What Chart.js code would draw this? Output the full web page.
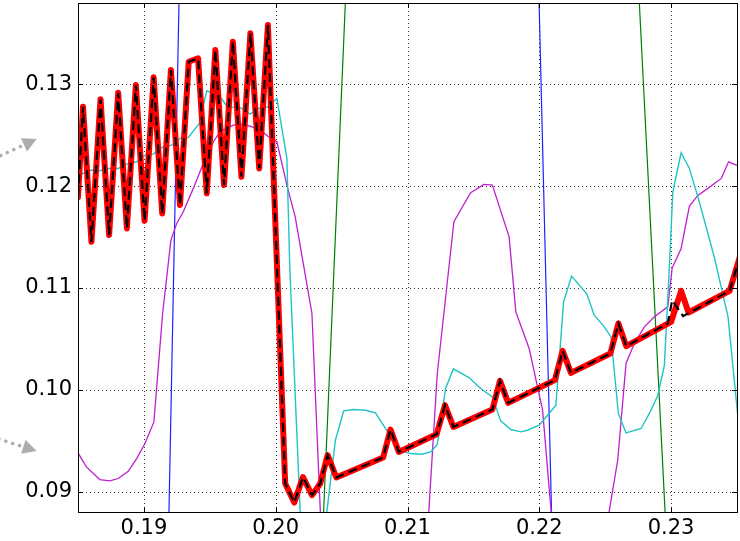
<!DOCTYPE html>
<html lang="en">
<head>
<meta charset="UTF-8">
<title>Filtered signal detail</title>
<script src="https://cdn.jsdelivr.net/npm/chart.js"></script>
<style>
  body { margin: 0; background: #fff; }
  canvas { display: block; }
</style>
</head>
<body>
<canvas id="chart" width="740" height="541"></canvas>
<script>
const xTicks = [0.19, 0.20, 0.21, 0.22, 0.23];
const yTicks = [0.09, 0.10, 0.11, 0.12, 0.13];

// output (thick red) and its dashed black reference
const redX = [0.18500, 0.18538, 0.18602, 0.18671, 0.18736, 0.18805, 0.18871, 0.18939, 0.19005, 0.19074,
  0.19139, 0.19205, 0.19274, 0.19340, 0.19411, 0.19477, 0.19542, 0.19608, 0.19675, 0.19740,
  0.19808, 0.19875, 0.19941, 0.20072, 0.20141, 0.20207, 0.20275, 0.20338, 0.20394, 0.20460,
  0.20815, 0.20871, 0.20934, 0.21221, 0.21284, 0.21348, 0.21644, 0.21702, 0.21764, 0.22118,
  0.22177, 0.22240, 0.22539, 0.22600, 0.22660, 0.23000, 0.23076, 0.23132, 0.23444, 0.23520];
const redY = [0.11893, 0.12781, 0.11454, 0.12854, 0.11520, 0.12918, 0.11586, 0.12994, 0.11660, 0.13070,
  0.11733, 0.13142, 0.11815, 0.13223, 0.13257, 0.11930, 0.13338, 0.12011, 0.13420, 0.12093,
  0.13502, 0.12175, 0.13584, 0.09080, 0.08893, 0.09144, 0.08965, 0.09080, 0.09358, 0.09139,
  0.09335, 0.09610, 0.09390, 0.09564, 0.09849, 0.09636, 0.09807, 0.10088, 0.09872, 0.10095,
  0.10383, 0.10167, 0.10357, 0.10652, 0.10429, 0.10668, 0.10972, 0.10760, 0.10972, 0.11300];

const refX = redX.slice(0, 45).concat([0.22975, 0.23008, 0.23091, 0.23444, 0.23520]);
const refY = redY.slice(0, 45).concat([0.10652, 0.10881, 0.10724, 0.10972, 0.11300]);

const cyanX = [0.18500, 0.18538, 0.18602, 0.18665, 0.18729, 0.18805, 0.18868, 0.18945, 0.19008, 0.19071,
  0.19147, 0.19211, 0.19274, 0.19337, 0.19421, 0.19477, 0.19527, 0.19578, 0.19629, 0.19679,
  0.19730, 0.19806, 0.19869, 0.19933, 0.20009, 0.20085, 0.20107, 0.20239, 0.20453, 0.20516,
  0.20592, 0.20681, 0.20757, 0.20858, 0.20922, 0.21023, 0.21112, 0.21175, 0.21226, 0.21289,
  0.21348, 0.21466, 0.21555, 0.21644, 0.21707, 0.21784, 0.21860, 0.21910, 0.21999, 0.22063,
  0.22126, 0.22184, 0.22245, 0.22361, 0.22417, 0.22493, 0.22544, 0.22600, 0.22658, 0.22772,
  0.22835, 0.22899, 0.22949, 0.22987, 0.23013, 0.23076, 0.23139, 0.23203, 0.23266, 0.23330,
  0.23432, 0.23520];
const cyanY = [0.12093, 0.12126, 0.12159, 0.12152, 0.12175, 0.12175, 0.12218, 0.12240, 0.12306, 0.12316,
  0.12388, 0.12404, 0.12470, 0.12480, 0.12618, 0.12938, 0.12913, 0.12879, 0.12788, 0.12775,
  0.12775, 0.12709, 0.12765, 0.12775, 0.12863, 0.12274, 0.11196, 0.07186, 0.09505, 0.09793,
  0.09807, 0.09800, 0.09773, 0.09571, 0.09407, 0.09374, 0.09367, 0.09390, 0.09463, 0.10013,
  0.10206, 0.10121, 0.10013, 0.09931, 0.09695, 0.09610, 0.09587, 0.09603, 0.09653, 0.09751,
  0.09849, 0.10864, 0.11117, 0.10940, 0.10734, 0.10619, 0.10520, 0.09768, 0.09577, 0.09620,
  0.09768, 0.09945, 0.10240, 0.11208, 0.11945, 0.12329, 0.12175, 0.11896, 0.11600, 0.11291,
  0.10717, 0.09560];

const magentaX = [0.18500, 0.18564, 0.18665, 0.18741, 0.18805, 0.18881, 0.18945, 0.19008, 0.19076, 0.19142,
  0.19205, 0.19249, 0.19299, 0.19375, 0.19451, 0.19527, 0.19578, 0.19679, 0.19730, 0.19806,
  0.19882, 0.19945, 0.20009, 0.20085, 0.20148, 0.20275, 0.20361, 0.20700, 0.21137, 0.21226,
  0.21276, 0.21352, 0.21479, 0.21580, 0.21644, 0.21771, 0.21822, 0.21923, 0.22025, 0.22110,
  0.22300, 0.22491, 0.22595, 0.22658, 0.22721, 0.22797, 0.22873, 0.22975, 0.23008, 0.23076,
  0.23139, 0.23203, 0.23279, 0.23381, 0.23436, 0.23495, 0.23520];
const magentaY = [0.09380, 0.09243, 0.09119, 0.09105, 0.09129, 0.09200, 0.09325, 0.09473, 0.09685, 0.10750,
  0.11471, 0.11635, 0.11749, 0.11979, 0.12225, 0.12437, 0.12535, 0.12601, 0.12611, 0.12591,
  0.12552, 0.12486, 0.12437, 0.12011, 0.11700, 0.10750, 0.08119, 0.06500, 0.08288, 0.10161,
  0.10750, 0.11651, 0.11936, 0.12018, 0.12011, 0.11503, 0.10766, 0.10406, 0.09800, 0.08493,
  0.07000, 0.08503, 0.09309, 0.10259, 0.10456, 0.10619, 0.10717, 0.10815, 0.11196, 0.11389,
  0.11805, 0.11910, 0.11979, 0.12077, 0.12240, 0.12208, 0.12200];

// raw signals, mostly far outside the visible window
const blueX = [0.1840, 0.1913, 0.1933, 0.2195, 0.2215, 0.2360];
const blueY = [0.0100, 0.0485, 0.1799, 0.1637, 0.0577, 0.0200];
const greenX = [0.1840, 0.2030, 0.2060, 0.2270, 0.2302, 0.2360];
const greenY = [0.0200, 0.0688, 0.1597, 0.1531, 0.0712, 0.0200];

const pts = (xs, ys) => xs.map((x, i) => ({ x, y: ys[i] }));
const line = (label, xs, ys, color, width, extra) => Object.assign({
  label, data: pts(xs, ys), borderColor: color, borderWidth: width,
  pointRadius: 0, tension: 0, fill: false, clip: 0
}, extra || {});

// dotted grid, inward ticks on all four sides, axes frame
const frame = {
  id: 'frame',
  beforeDatasetsDraw(chart) {
    const { ctx, chartArea: a, scales: { x, y } } = chart;
    ctx.save();
    ctx.strokeStyle = 'rgba(0,0,0,0.8)';
    ctx.lineWidth = 1;
    ctx.setLineDash([1, 3]);
    ctx.beginPath();
    xTicks.forEach(v => {
      const px = Math.round(x.getPixelForValue(v)) + 0.5;
      ctx.moveTo(px, a.top); ctx.lineTo(px, a.bottom);
    });
    yTicks.forEach(v => {
      const py = Math.round(y.getPixelForValue(v)) + 0.5;
      ctx.moveTo(a.left, py); ctx.lineTo(a.right, py);
    });
    ctx.stroke();
    ctx.restore();
  },
  afterDatasetsDraw(chart) {
    const { ctx, chartArea: a, scales: { x, y } } = chart;
    const t = 5;
    ctx.save();
    ctx.strokeStyle = '#000';
    ctx.lineWidth = 1;
    ctx.beginPath();
    xTicks.forEach(v => {
      const px = Math.round(x.getPixelForValue(v)) + 0.5;
      ctx.moveTo(px, a.bottom); ctx.lineTo(px, a.bottom - t);
      ctx.moveTo(px, a.top); ctx.lineTo(px, a.top + t);
    });
    yTicks.forEach(v => {
      const py = Math.round(y.getPixelForValue(v)) + 0.5;
      ctx.moveTo(a.left, py); ctx.lineTo(a.left + t, py);
      ctx.moveTo(a.right, py); ctx.lineTo(a.right - t, py);
    });
    ctx.stroke();
    ctx.strokeRect(Math.round(a.left) + 0.5, Math.round(a.top) + 0.5,
      Math.round(a.right - a.left), Math.round(a.bottom - a.top));
    ctx.restore();
  },
  afterDraw(chart) {
    // two dotted pointer arrows coming in from the left margin
    const { ctx, chartArea: a } = chart;
    const arrows = [
      { tx: a.left - 41.3, ty: a.top + 136, dx: 0.908, dy: -0.419 },
      { tx: a.left - 41.3, ty: a.top + 448, dx: 0.954, dy: 0.300 }
    ];
    ctx.save();
    ctx.strokeStyle = '#adadad';
    ctx.fillStyle = '#adadad';
    arrows.forEach(ar => {
      const hl = 14, hw = 7.3;
      const bx = ar.tx - ar.dx * hl, by = ar.ty - ar.dy * hl;
      ctx.lineWidth = 3.2;
      ctx.setLineDash([3.2, 4]);
      ctx.beginPath();
      ctx.moveTo(ar.tx - ar.dx * 70, ar.ty - ar.dy * 70);
      ctx.lineTo(bx, by);
      ctx.stroke();
      ctx.setLineDash([]);
      ctx.beginPath();
      ctx.moveTo(ar.tx, ar.ty);
      ctx.lineTo(bx - ar.dy * hw, by + ar.dx * hw);
      ctx.lineTo(bx + ar.dy * hw, by - ar.dx * hw);
      ctx.closePath();
      ctx.fill();
    });
    ctx.restore();
  }
};

Chart.defaults.font.family = '"DejaVu Sans", sans-serif';
Chart.defaults.color = '#000';

new Chart(document.getElementById('chart'), {
  type: 'line',
  data: {
    datasets: [
      line('reference', refX, refY, '#000000', 2.2, { borderDash: [9, 5] }),
      line('output', redX, redY, '#ff0000', 6, { borderJoinStyle: 'round', borderCapStyle: 'round' }),
      line('filter c', cyanX, cyanY, '#1fc4c4', 1.4),
      line('filter m', magentaX, magentaY, '#bf1fcf', 1.3),
      line('raw b', blueX, blueY, '#2020ff', 1.2),
      line('raw g', greenX, greenY, '#008000', 1.2)
    ]
  },
  options: {
    responsive: false,
    animation: false,
    layout: { padding: { top: 3, right: 3, left: 0, bottom: 0 } },
    plugins: { legend: { display: false }, tooltip: { enabled: false } },
    scales: {
      x: {
        type: 'linear', min: 0.185, max: 0.235,
        grid: { display: false, drawTicks: false },
        border: { display: false },
        afterBuildTicks: s => { s.ticks = xTicks.map(v => ({ value: v })); },
        afterFit: s => { s.height = 29; s.paddingLeft = 0; s.paddingRight = 0; },
        ticks: { padding: 4, maxRotation: 0, autoSkip: false, font: { size: 21 },
          callback: v => v.toFixed(2) }
      },
      y: {
        type: 'linear', min: 0.088, max: 0.138,
        grid: { display: false, drawTicks: false },
        border: { display: false },
        afterBuildTicks: s => { s.ticks = yTicks.map(v => ({ value: v })); },
        afterFit: s => { s.width = 78; s.paddingTop = 0; s.paddingBottom = 0; },
        ticks: { padding: 6, autoSkip: false, font: { size: 21 },
          callback: v => v.toFixed(2) }
      }
    }
  },
  plugins: [frame]
});
</script>
</body>
</html>
